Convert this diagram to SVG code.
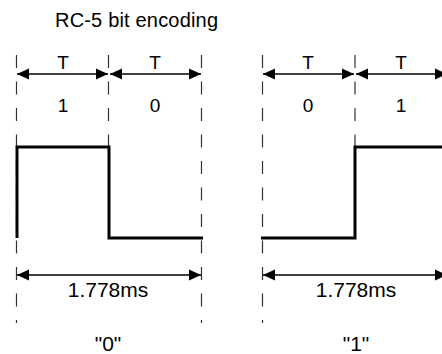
<svg xmlns="http://www.w3.org/2000/svg" width="442" height="354" viewBox="0 0 442 354">
<style>
text{font-family:"Liberation Sans",Arial,sans-serif;fill:#000}
.lbl{font-size:19px;text-anchor:middle}
.big{font-size:21px;text-anchor:middle}
.dash{stroke:#333;stroke-width:1.2;stroke-dasharray:13 13.5;fill:none}
.dim{stroke:#000;stroke-width:1.3;fill:none;marker-start:url(#ah);marker-end:url(#ah)}
.wave{stroke:#000;stroke-width:3;fill:none;stroke-linejoin:miter}
</style>
<defs>
<marker id="ah" viewBox="0 0 12 12" refX="12" refY="6" markerWidth="12" markerHeight="12" markerUnits="userSpaceOnUse" orient="auto-start-reverse">
<path d="M0,0.5 L12,6 L0,11.5 Z" fill="#000"/>
</marker>
</defs>
<text x="55" y="27" font-size="20" textLength="163" lengthAdjust="spacing">RC-5 bit encoding</text>
<g id="guides">
<line class="dash" x1="16.5" y1="55" x2="16.5" y2="323"/>
<line class="dash" x1="108.5" y1="55" x2="108.5" y2="147"/>
<line class="dash" x1="201.5" y1="55" x2="201.5" y2="323"/>
<line class="dash" x1="262.5" y1="55" x2="262.5" y2="323"/>
<line class="dash" x1="355" y1="55" x2="355" y2="147"/>
<line class="dash" x1="447.5" y1="55" x2="447.5" y2="323"/>
</g>
<g id="connectors">
<line class="dim" x1="17" y1="74" x2="108" y2="74"/>
<line class="dim" x1="110" y1="74" x2="201" y2="74"/>
<line class="dim" x1="17" y1="275" x2="201" y2="275"/>
<line class="dim" x1="263" y1="74" x2="354" y2="74"/>
<line class="dim" x1="356" y1="74" x2="447" y2="74"/>
<line class="dim" x1="263" y1="275" x2="447" y2="275"/>
</g>
<g id="bit0">
<path class="wave" d="M17,238 V147 H109 V238 H203"/>
<text class="lbl" x="63" y="69">T</text>
<text class="lbl" x="155" y="69">T</text>
<text class="lbl" x="63" y="112">1</text>
<text class="lbl" x="155" y="112">0</text>
<text class="big" x="108" y="297">1.778ms</text>
<text class="big" x="108" y="351">"0"</text>
</g>
<g id="bit1">
<path class="wave" d="M261,238 H355 V147 H450"/>
<text class="lbl" x="308" y="69">T</text>
<text class="lbl" x="401" y="69">T</text>
<text class="lbl" x="308" y="112">0</text>
<text class="lbl" x="401" y="112">1</text>
<text class="big" x="356" y="297">1.778ms</text>
<text class="big" x="356" y="351">"1"</text>
</g>
</svg>
